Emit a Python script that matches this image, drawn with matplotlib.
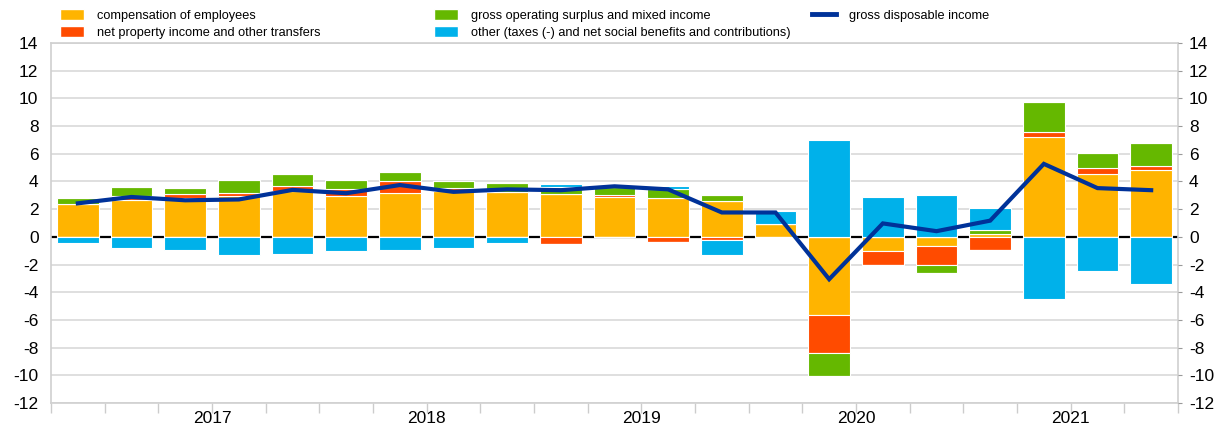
import matplotlib
matplotlib.use("Agg")
import matplotlib.pyplot as plt
from matplotlib.patches import Patch
from matplotlib.lines import Line2D
import numpy as np

plt.rcParams['font.family'] = ['Liberation Sans', 'DejaVu Sans']

# Quarters 2016Q4 .. 2021Q4
quarters = ["2016Q4",
            "2017Q1", "2017Q2", "2017Q3", "2017Q4",
            "2018Q1", "2018Q2", "2018Q3", "2018Q4",
            "2019Q1", "2019Q2", "2019Q3", "2019Q4",
            "2020Q1", "2020Q2", "2020Q3", "2020Q4",
            "2021Q1", "2021Q2", "2021Q3", "2021Q4"]
years = ["2017", "2018", "2019", "2020", "2021"]

compensation = [2.36, 2.65, 2.77, 2.95, 3.30, 2.97, 3.15, 3.30, 3.27, 3.08, 2.91,
                2.84, 2.60, 0.92, -5.68, -1.00, -0.63, 0.20, 7.20, 4.53, 4.81]
property_inc = [0.00, 0.32, 0.30, 0.25, 0.37, 0.50, 0.85, 0.25, 0.00, -0.52, 0.12,
                -0.34, -0.24, 0.00, -2.72, -1.00, -1.42, -0.94, 0.40, 0.43, 0.32]
gos = [0.46, 0.63, 0.48, 0.87, 0.88, 0.67, 0.67, 0.50, 0.60, 0.55, 0.55,
       0.60, 0.43, -0.05, -1.64, 0.00, -0.58, 0.30, 2.12, 1.13, 1.63]
other = [-0.41, -0.80, -0.94, -1.33, -1.24, -1.01, -0.94, -0.84, -0.48, 0.20, 0.00,
         0.20, -1.06, 0.96, 7.00, 2.91, 3.00, 1.57, -4.50, -2.50, -3.40]
gdi = [2.42, 2.88, 2.64, 2.70, 3.39, 3.15, 3.74, 3.25, 3.43, 3.37, 3.65,
       3.43, 1.76, 1.76, -3.06, 0.97, 0.41, 1.17, 5.27, 3.52, 3.37]

labels = ["compensation of employees",
          "net property income and other transfers",
          "gross operating surplus and mixed income",
          "other (taxes (-) and net social benefits and contributions)",
          "gross disposable income"]
colors = ["#FFB400", "#FF4B00", "#65B800", "#00B1EA"]
line_color = "#003299"

W, H = 1226, 430
fig = plt.figure(figsize=(W / 100, H / 100), dpi=100)
ax = fig.add_axes([51 / W, 27 / H, (1178 - 51) / W, (403 - 43) / H])

x = np.arange(len(quarters))
series = [compensation, property_inc, gos, other]
pos_base = np.zeros(len(x))
neg_base = np.zeros(len(x))
for vals, c in zip(series, colors):
    v = np.array(vals, dtype=float)
    pos = np.where(v > 0, v, 0)
    neg = np.where(v < 0, v, 0)
    ax.bar(x, pos, bottom=pos_base, width=0.78, color=c, edgecolor="white",
           linewidth=0.8, zorder=3)
    ax.bar(x, neg, bottom=neg_base, width=0.78, color=c, edgecolor="white",
           linewidth=0.8, zorder=3)
    pos_base += pos
    neg_base += neg

ax.axhline(0, color="black", lw=1.6, zorder=2)
ax.plot(x, gdi, color=line_color, lw=3, zorder=5, solid_joinstyle="miter")

ax.set_xlim(-0.5, len(x) - 0.5)
ax.set_ylim(-12, 14)
yt = np.arange(-12, 15, 2)
ax.set_yticks(yt)
ax.set_yticklabels([str(v) for v in yt])
ax.grid(axis="y", color="#dcdcdc", lw=1.3, zorder=0)
ax.set_axisbelow(True)

ax.xaxis.remove_overlapping_locs = False
ax.set_xticks(np.arange(-0.5, len(x), 1.0))
ax.set_xticklabels([])
ax.set_xticks([2.5 + 4 * i for i in range(len(years))], minor=True)
ax.set_xticklabels(years, minor=True)
ax.tick_params(axis="x", which="major", length=7, color="#cccccc", width=1)
ax.tick_params(axis="x", which="minor", length=0, pad=6, labelsize=12.5)
ax.tick_params(axis="y", length=0, pad=9, labelsize=12.5)

for s in ax.spines.values():
    s.set_color("#d0d0d0")
    s.set_linewidth(1.2)

ax2 = ax.twinx()
ax2.set_ylim(-12, 14)
ax2.set_yticks(yt)
ax2.set_yticklabels([str(v) for v in yt])
ax2.tick_params(axis="y", length=3, color="#999999", pad=5, labelsize=12.5)
for s in ax2.spines.values():
    s.set_visible(False)

fs = 9.2
common = dict(frameon=False, fontsize=fs, loc="upper left", borderpad=0,
              handlelength=1.9, handleheight=0.9, handletextpad=1.0,
              labelspacing=0.35, borderaxespad=0)
h1 = [Patch(facecolor=colors[0], edgecolor="white", label=labels[0]),
      Patch(facecolor=colors[1], edgecolor="white", label=labels[1])]
h2 = [Patch(facecolor=colors[2], edgecolor="white", label=labels[2]),
      Patch(facecolor=colors[3], edgecolor="white", label=labels[3])]
h3 = [Line2D([0], [0], color=line_color, lw=3.5, label=labels[4])]
top = 1 - 9 / H
fig.legend(handles=h1, bbox_to_anchor=(60 / W, top), **common)
fig.legend(handles=h2, bbox_to_anchor=(434 / W, top), **common)
fig.legend(handles=h3, bbox_to_anchor=(812 / W, top), **common)

fig.savefig("out.png", dpi=100)
